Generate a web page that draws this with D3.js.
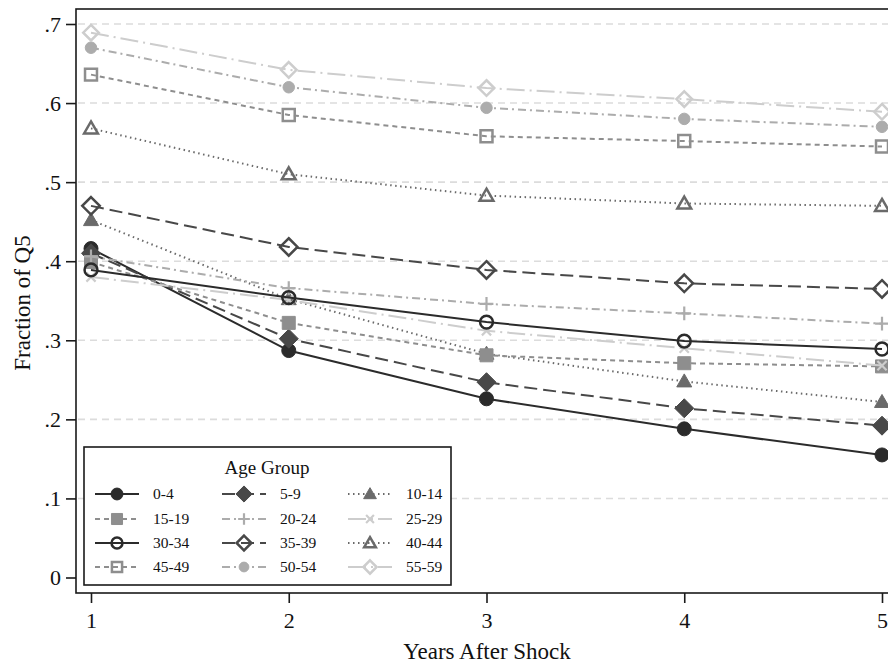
<!DOCTYPE html>
<html>
<head>
<meta charset="utf-8">
<script src="https://cdn.jsdelivr.net/npm/d3@7/dist/d3.min.js"></script>
<style>
  html, body { margin: 0; padding: 0; background: #fff; }
  svg { display: block; font-family: "Liberation Serif", "DejaVu Serif", serif; }
</style>
</head>
<body>
<svg id="chart" width="888" height="663"></svg>
<script>
// Years after the shock (x axis)
const years = [1, 2, 3, 4, 5];

// Age groups, in plotting order
const groups = ["0-4", "5-9", "10-14", "15-19", "20-24", "25-29",
                "30-34", "35-39", "40-44", "45-49", "50-54", "55-59"];

// Fraction of Q5 for each age group, years 1..5
const g0_4   = [0.416, 0.287, 0.226, 0.188, 0.155];
const g5_9   = [0.410, 0.302, 0.247, 0.214, 0.192];
const g10_14 = [0.452, 0.352, 0.283, 0.248, 0.222];
const g15_19 = [0.399, 0.322, 0.281, 0.271, 0.267];
const g20_24 = [0.406, 0.366, 0.346, 0.334, 0.321];
const g25_29 = [0.380, 0.351, 0.312, 0.290, 0.268];
const g30_34 = [0.389, 0.354, 0.323, 0.299, 0.289];
const g35_39 = [0.470, 0.418, 0.389, 0.372, 0.365];
const g40_44 = [0.568, 0.510, 0.483, 0.473, 0.470];
const g45_49 = [0.636, 0.585, 0.558, 0.552, 0.545];
const g50_54 = [0.670, 0.620, 0.594, 0.580, 0.570];
const g55_59 = [0.689, 0.642, 0.619, 0.605, 0.589];

const seriesValues = [g0_4, g5_9, g10_14, g15_19, g20_24, g25_29,
                      g30_34, g35_39, g40_44, g45_49, g50_54, g55_59];

// Y ticks
const yTicks = [0, 0.1, 0.2, 0.3, 0.4, 0.5, 0.6, 0.7];

// Grey-scale styles per group: colour, dash, marker, filled
const palette = ["#2b2b2b", "#484848", "#6a6a6a", "#8e8e8e", "#acacac", "#cdcdcd"];
const dashes  = [null, "13,6", "1.5,3.5", "5,4", "8,4,2,4", "18,5,2,5"];
const markers = ["circle", "diamond", "triangle", "square", "plus", "x",
                 "circle", "diamond", "triangle", "square", "circle", "diamond"];
const filled  = [true, true, true, true, false, false,
                 false, false, false, false, true, false];

const styles = groups.map((g, i) => ({
  color: palette[i % 6],
  dash: dashes[i % 6],
  marker: markers[i],
  filled: filled[i],
  scale: i >= 10 ? 0.82 : (filled[i] ? 1 : 0.92)
}));

function markerPath(type, s) {
  switch (type) {
    case "circle": {
      const r = 7 * s;
      return `M${-r},0A${r},${r} 0 1,0 ${r},0A${r},${r} 0 1,0 ${-r},0Z`;
    }
    case "diamond": {
      const h = 9.5 * s;
      return `M0,${-h}L${h},0L0,${h}L${-h},0Z`;
    }
    case "triangle": {
      const w = 7.5 * s, t = 7.5 * s, b = 5.5 * s;
      return `M0,${-t}L${w},${b}L${-w},${b}Z`;
    }
    case "square": {
      const a = 6.5 * s;
      return `M${-a},${-a}H${a}V${a}H${-a}Z`;
    }
    case "plus": {
      const a = 7.5 * s;
      return `M${-a},0H${a}M0,${-a}V${a}`;
    }
    case "x": {
      const a = 5 * s;
      return `M${-a},${-a}L${a},${a}M${-a},${a}L${a},${-a}`;
    }
  }
}

function drawMarker(sel, st, x, y, k) {
  const s = st.scale * (k || 1);
  const p = sel.append("path")
    .attr("d", markerPath(st.marker, s))
    .attr("transform", `translate(${x},${y})`);
  if (st.marker === "plus" || st.marker === "x") {
    p.attr("fill", "none").attr("stroke", st.color).attr("stroke-width", 2.2);
  } else if (st.filled) {
    p.attr("fill", st.color).attr("stroke", st.color).attr("stroke-width", 1);
  } else {
    p.attr("fill", "none").attr("stroke", st.color).attr("stroke-width", 2.5);
  }
}

const svg = d3.select("#chart");

const plotLeft = 76, plotTop = 9, plotBottom = 593, plotRight = 905;

const x = d3.scaleLinear().domain([1, 5]).range([91, 882]);
const y = d3.scaleLinear().domain([0, 0.7]).range([577.5, 24]);

// Horizontal grid lines
svg.append("g")
  .selectAll("line")
  .data(yTicks.filter(d => d > 0))
  .join("line")
  .attr("x1", plotLeft + 2).attr("x2", plotRight)
  .attr("y1", d => y(d)).attr("y2", d => y(d))
  .attr("stroke", "#dcdcdc")
  .attr("stroke-width", 1.6)
  .attr("stroke-dasharray", "7,5");

// Plot frame
svg.append("rect")
  .attr("x", plotLeft).attr("y", plotTop)
  .attr("width", plotRight - plotLeft).attr("height", plotBottom - plotTop)
  .attr("fill", "none").attr("stroke", "#1a1a1a").attr("stroke-width", 1.6);

// Y axis
const fmt = d => d === 0 ? "0" : d3.format(".1f")(d).replace(/^0/, "");
const yAxis = svg.append("g")
  .attr("transform", `translate(${plotLeft},0)`)
  .call(d3.axisLeft(y).tickValues(yTicks).tickFormat(fmt).tickSize(10).tickPadding(5));
yAxis.select(".domain").remove();
yAxis.selectAll(".tick line").attr("stroke", "#1a1a1a").attr("stroke-width", 1.6);
yAxis.selectAll(".tick text")
  .attr("font-family", "Liberation Serif, serif")
  .attr("font-size", 22).attr("fill", "#111");

// X axis
const xAxis = svg.append("g")
  .attr("transform", `translate(0,${plotBottom})`)
  .call(d3.axisBottom(x).tickValues(years).tickFormat(d3.format("d")).tickSize(10).tickPadding(9));
xAxis.select(".domain").remove();
xAxis.selectAll(".tick line").attr("stroke", "#1a1a1a").attr("stroke-width", 1.6);
xAxis.selectAll(".tick text")
  .attr("font-family", "Liberation Serif, serif")
  .attr("font-size", 22).attr("fill", "#111");

// Axis titles
svg.append("text")
  .attr("x", 487).attr("y", 659)
  .attr("text-anchor", "middle")
  .attr("font-size", 23).attr("fill", "#111")
  .text("Years After Shock");

svg.append("text")
  .attr("transform", "translate(30,303) rotate(-90)")
  .attr("text-anchor", "middle")
  .attr("font-size", 23).attr("fill", "#111")
  .text("Fraction of Q5");

// Series
const line = d3.line().x(d => x(d[0])).y(d => y(d[1]));
const seriesG = svg.append("g");
seriesValues.forEach((vals, i) => {
  const st = styles[i];
  const pts = years.map((yr, k) => [yr, vals[k]]);
  const g = seriesG.append("g");
  g.append("path")
    .attr("d", line(pts))
    .attr("fill", "none")
    .attr("stroke", st.color)
    .attr("stroke-width", 2)
    .attr("stroke-dasharray", st.dash);
  pts.forEach(p => drawMarker(g, st, x(p[0]), y(p[1])));
});

// Legend
const legX = 84, legY = 447, legW = 367, legH = 138;
const leg = svg.append("g");
leg.append("rect")
  .attr("x", legX).attr("y", legY).attr("width", legW).attr("height", legH)
  .attr("fill", "#fff").attr("stroke", "#1a1a1a").attr("stroke-width", 1.6);
leg.append("text")
  .attr("x", 267).attr("y", 474)
  .attr("text-anchor", "middle")
  .attr("font-size", 19).attr("fill", "#111")
  .text("Age Group");

const colX = [95, 222, 348];
const rowY = [494, 519, 543, 567];
groups.forEach((g, i) => {
  const st = styles[i];
  const cx = colX[i % 3], cy = rowY[Math.floor(i / 3)];
  const item = leg.append("g");
  item.append("line")
    .attr("x1", cx).attr("x2", cx + 44)
    .attr("y1", cy).attr("y2", cy)
    .attr("stroke", st.color).attr("stroke-width", 2)
    .attr("stroke-dasharray", st.dash);
  drawMarker(item, st, cx + 22, cy, 0.85);
  item.append("text")
    .attr("x", cx + 58).attr("y", cy + 5)
    .attr("font-size", 15.5).attr("fill", "#111")
    .text(g);
});
</script>
</body>
</html>
